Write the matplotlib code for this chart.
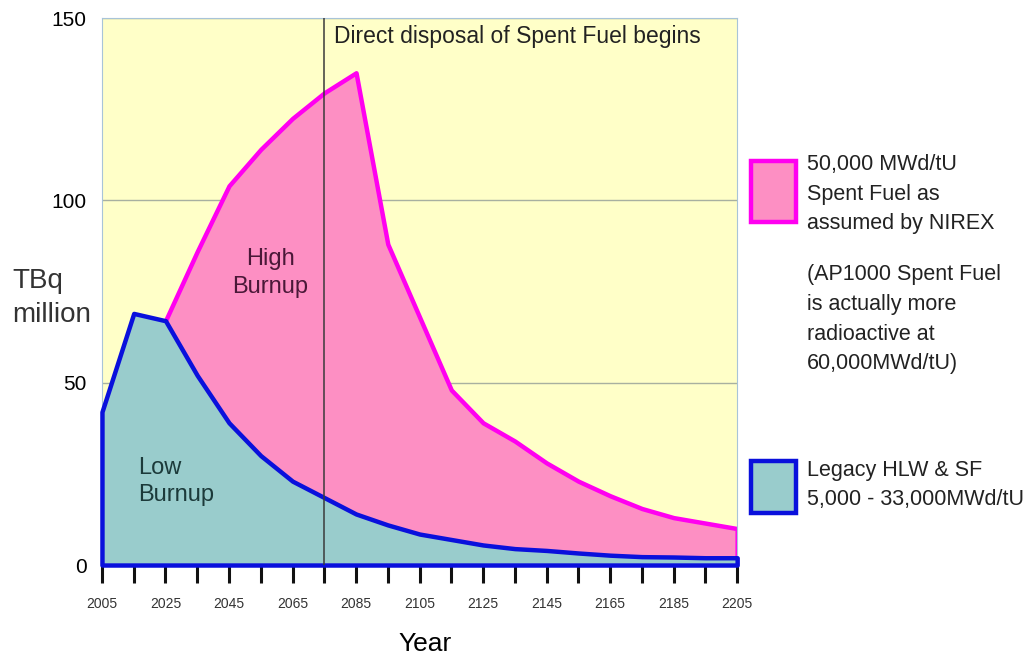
import numpy as np
import matplotlib.pyplot as plt
from matplotlib.patches import Rectangle

plt.rcParams['font.family'] = ['Liberation Sans', 'DejaVu Sans']

# Legacy HLW & SF (low burnup), every 10 years 2005-2205
years_low = [2005, 2015, 2025, 2035, 2045, 2055, 2065, 2075, 2085, 2095, 2105,
             2115, 2125, 2135, 2145, 2155, 2165, 2175, 2185, 2195, 2205]
low = [42, 69, 67, 52, 39, 30, 23, 18.5, 14, 11, 8.5,
       7, 5.5, 4.5, 4, 3.3, 2.7, 2.3, 2.2, 2, 2]

# 50,000 MWd/tU spent fuel (high burnup), total on top of legacy
years_high = [2025, 2035, 2045, 2055, 2065, 2075, 2085, 2095, 2105, 2115,
              2125, 2135, 2145, 2155, 2165, 2175, 2185, 2195, 2205]
high = [67, 86, 104, 114, 122.5, 129.5, 135, 88, 68, 48,
        39, 34, 28, 23, 19, 15.5, 13, 11.5, 10]

tick_years = np.arange(2005, 2206, 10)
label_years = np.arange(2005, 2206, 20)
disposal_year = 2075

fig = plt.figure(figsize=(10.32, 6.59), dpi=100)
ax = fig.add_axes([0.0988, 0.1426, 0.6155, 0.830])
ax.set_facecolor('#ffffc8')

ax.fill_between(years_high, 0, high, facecolor='#fd8fc3', edgecolor='#ff00f0',
                linewidth=3.2, zorder=2)
ax.fill_between(years_low, 0, low, facecolor='#99cccc', edgecolor='#0a10dc',
                linewidth=3.2, zorder=3, clip_on=False)

ax.axvline(disposal_year, color='#3a3a3a', linewidth=1.1, zorder=4)
ax.text(disposal_year + 3, 148, 'Direct disposal of Spent Fuel begins',
        fontsize=16.5, va='top', ha='left', color='#222222', zorder=5)
ax.text(2058, 80, 'High\nBurnup', fontsize=17, color='#4a1838', ha='center',
        va='center', linespacing=1.35, zorder=5)
ax.text(2016.5, 23, 'Low\nBurnup', fontsize=17, color='#1c3a3a', ha='left',
        va='center', linespacing=1.3, zorder=5)

ax.set_xlim(2005, 2205)
ax.set_ylim(0, 150)
ax.set_yticks([0, 50, 100, 150])
ax.yaxis.grid(True, color='#a8b0a0', linewidth=1)
ax.set_axisbelow(True)
ax.tick_params(axis='y', length=0, labelsize=15, pad=11)
ax.set_xticks(tick_years)
ax.set_xticklabels([str(y) if y in label_years else '' for y in tick_years])
ax.tick_params(axis='x', length=13, width=2.2, labelsize=10, pad=10,
               color='#111111')
for lab in ax.get_xticklabels():
    lab.set_color('#333333')
for side in ['top', 'right', 'left']:
    ax.spines[side].set_color('#a8c4d8')
ax.spines['bottom'].set_visible(False)

ax.set_xlabel('Year', fontsize=19)
ax.xaxis.set_label_coords(0.509, -0.122)
fig.text(0.012, 0.548, 'TBq\nmillion', fontsize=20, va='center', ha='left',
         linespacing=1.4, color='#333333')

# legend boxes
fig.add_artist(Rectangle((0.728, 0.663), 0.043, 0.093, transform=fig.transFigure,
                         facecolor='#fd8fc3', edgecolor='#ff00f0', linewidth=3.2))
fig.add_artist(Rectangle((0.728, 0.222), 0.043, 0.078, transform=fig.transFigure,
                         facecolor='#99cccc', edgecolor='#0a10dc', linewidth=3.2))
fig.text(0.782, 0.767, '50,000 MWd/tU\nSpent Fuel as\nassumed by NIREX',
         fontsize=15.5, va='top', linespacing=1.56, color='#222222')
fig.text(0.782, 0.600, '(AP1000 Spent Fuel\nis actually more\nradioactive at\n60,000MWd/tU)',
         fontsize=15.5, va='top', linespacing=1.56, color='#222222')
fig.text(0.782, 0.302, 'Legacy HLW & SF\n5,000 - 33,000MWd/tU',
         fontsize=15.5, va='top', linespacing=1.5, color='#222222')

fig.savefig('out.png', dpi=100)
